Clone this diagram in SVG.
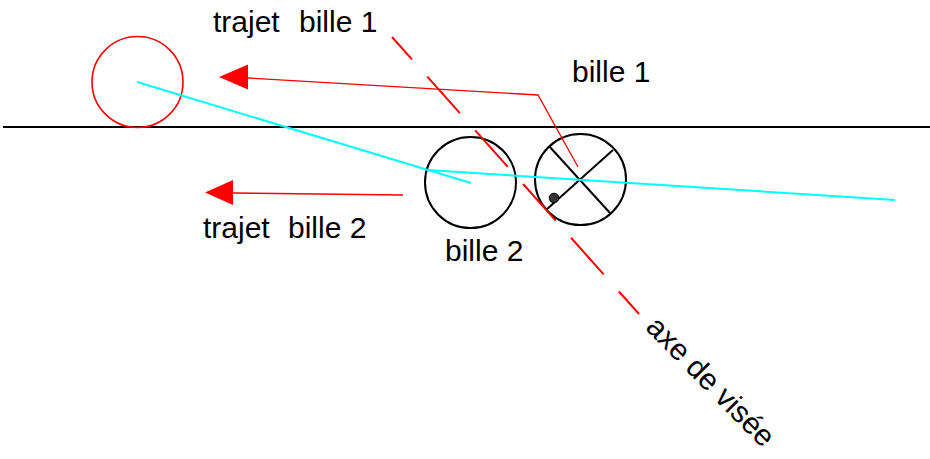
<svg xmlns="http://www.w3.org/2000/svg" width="930" height="459" viewBox="0 0 930 459">
<style>
text{font-family:"Liberation Sans",Arial,sans-serif;font-size:30px;fill:#000}
.ball{fill:none;stroke:#000;stroke-width:2}
.red{fill:none;stroke:#f00;stroke-width:1.3}
.cyan{fill:none;stroke:#0ff;stroke-width:2}
.head{fill:#f00;stroke:none}
</style>
<rect width="930" height="459" fill="#fff"/>
<g id="table">
<line x1="3" y1="127" x2="930" y2="127" stroke="#000" stroke-width="2"/>
</g>
<g id="ball-red">
<circle cx="137.5" cy="82" r="45.5" fill="none" stroke="#f00" stroke-width="1.6"/>
</g>
<g id="bille2">
<circle class="ball" cx="470.5" cy="182.5" r="45.5"/>
</g>
<g id="bille1">
<circle class="ball" cx="580.5" cy="179.5" r="45.5"/>
<line class="ball" x1="549" y1="146" x2="610" y2="213"/>
<line class="ball" x1="613" y1="150" x2="546" y2="210"/>
<circle cx="554" cy="198" r="4.8" fill="#333" stroke="#000" stroke-width="1"/>
</g>
<g id="connectors">
<line class="cyan" x1="137" y1="82" x2="471" y2="183"/>
<line class="cyan" x1="427" y1="170" x2="895" y2="200"/>
<polyline class="red" points="578,167 538,95 248,78"/>
<polygon class="head" points="219,77 248,64.5 248,89.5"/>
<line class="red" x1="403" y1="195" x2="233" y2="193"/>
<polygon class="head" points="205,192.5 233,180 233,205"/>
<line x1="392" y1="37" x2="639" y2="314" stroke="#f00" stroke-width="2" stroke-dasharray="49 23" stroke-dashoffset="19"/>
</g>
<g id="labels">
<text x="213" y="32" xml:space="preserve">trajet  <tspan x="299">bille 1</tspan></text>
<text x="572" y="82">bille 1</text>
<text x="203" y="238" xml:space="preserve">trajet  <tspan x="288">bille 2</tspan></text>
<text x="445" y="261">bille 2</text>
<text transform="translate(644.6,328.6) rotate(45.5)">axe de visée</text>
</g>
</svg>
